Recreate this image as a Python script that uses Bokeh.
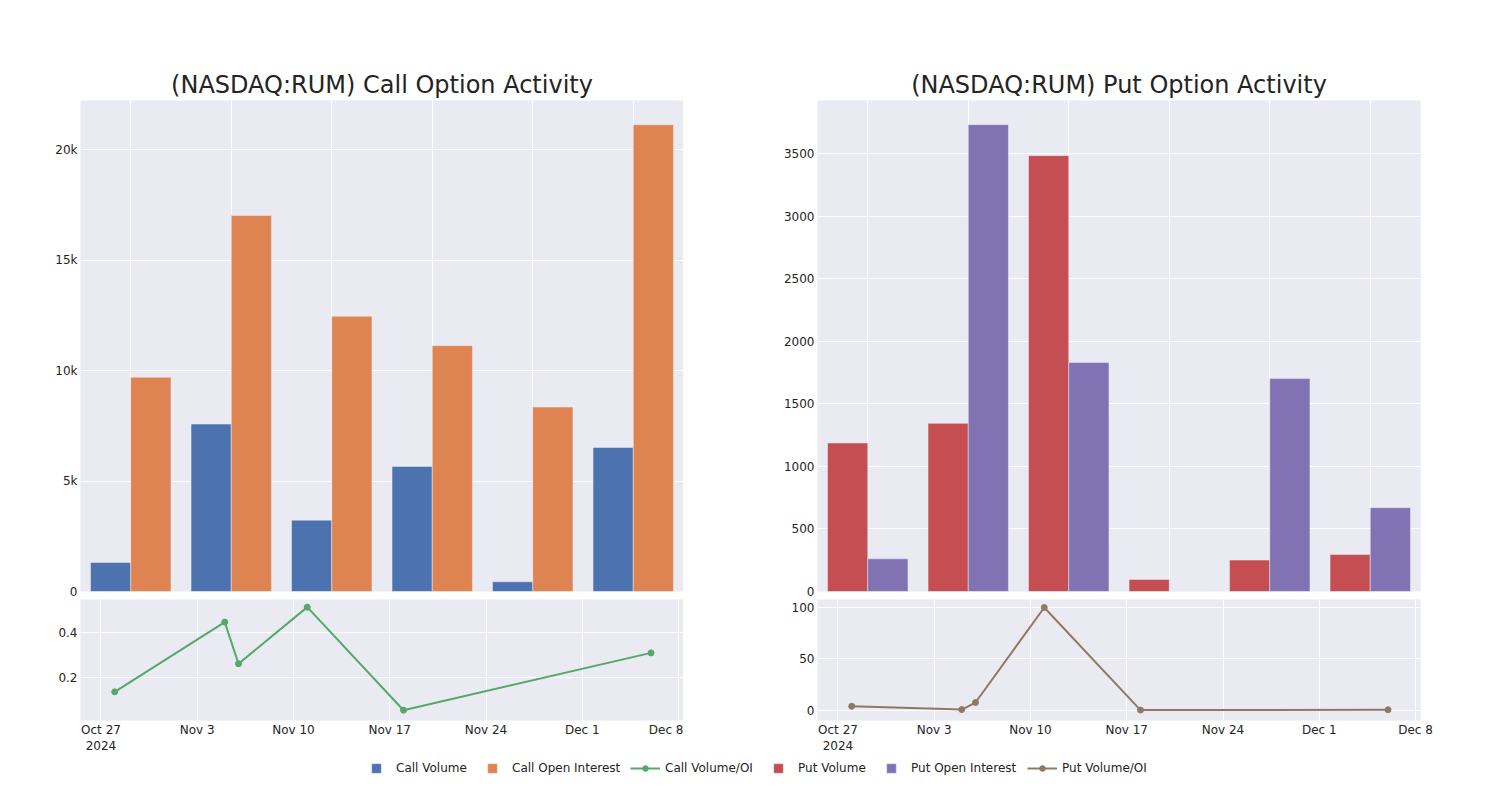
import pandas as pd
from bokeh.plotting import figure
from bokeh.models import (Range1d, FactorRange, FixedTicker, Legend, LegendItem,
                          ColumnDataSource)
from bokeh.transform import dodge
from bokeh.layouts import column, row
from bokeh.embed import file_html
from bokeh.resources import INLINE

# ---------------- data ----------------
dates = ["2024-10-28", "2024-11-05", "2024-11-06", "2024-11-11", "2024-11-18", "2024-12-06"]
call_volume = [1310, 7580, 3230, 5660, 440, 6520]
call_open_interest = [9700, 17020, 12460, 11130, 8350, 21130]
call_vol_oi = [0.138, 0.446, 0.262, 0.512, 0.057, 0.310]
put_volume = [1187, 1344, 3484, 96, 251, 296]
put_open_interest = [261, 3732, 1830, 0, 1702, 670]
put_vol_oi = [3.9, 0.65, 7.5, 100, 0.15, 0.44]

call_yticks = [0, 5000, 10000, 15000, 20000]
call_ytick_labels = ["0", "5k", "10k", "15k", "20k"]
put_yticks = [0, 500, 1000, 1500, 2000, 2500, 3000, 3500]
put_ytick_labels = ["0", "500", "1000", "1500", "2000", "2500", "3000", "3500"]
call_ratio_ticks = [0.2, 0.4]
call_ratio_labels = ["0.2", "0.4"]
put_ratio_ticks = [0, 50, 100]
put_ratio_labels = ["0", "50", "100"]
date_ticks = ["2024-10-27", "2024-11-03", "2024-11-10", "2024-11-17", "2024-11-24", "2024-12-01", "2024-12-08"]
date_tick_labels = ["Oct 27\n2024", "Nov 3", "Nov 10", "Nov 17", "Nov 24", "Dec 1", "Dec 8"]

# ---------------- style ----------------
FONT = "DejaVu Sans"
TXT = "#242424"
BG = "#EAEAF2"
C_BLUE, C_ORANGE, C_GREEN = "#4C72B0", "#DD8452", "#55A868"
C_RED, C_PURPLE, C_BROWN = "#C44E52", "#8172B3", "#937860"

FW = 603
date_ms = [int(pd.Timestamp(d).value // 10**6) for d in date_ticks]
line_x = pd.to_datetime(dates)
x_start = pd.Timestamp("2024-10-25 12:15")
x_end = pd.Timestamp("2024-12-08 08:40")


def style(p):
    p.background_fill_color = BG
    p.border_fill_color = "white"
    p.outline_line_color = None
    p.grid.grid_line_color = "white"
    p.grid.grid_line_width = 1
    for ax in p.axis:
        ax.axis_line_color = None
        ax.major_tick_line_color = None
        ax.minor_tick_line_color = None
        ax.major_tick_out = 0
        ax.major_tick_in = 0
        ax.major_label_text_font = FONT
        ax.major_label_text_font_size = "12px"
        ax.major_label_text_color = TXT
        ax.major_label_standoff = 3


def bar_fig(title, left, right, ymax, yt, ytl, vals1, vals2, c1, c2):
    p = figure(x_range=FactorRange(*dates), y_range=Range1d(0, ymax),
               frame_width=FW, frame_height=491,
               min_border_left=left, min_border_right=right,
               min_border_top=100, min_border_bottom=8,
               x_axis_location=None, output_backend="svg",
               toolbar_location=None, title=title)
    src = ColumnDataSource(dict(date=dates, a=vals1, b=vals2))
    p.vbar(x=dodge("date", -0.2, range=p.x_range), top="a", width=0.4, source=src,
           fill_color=c1, line_color=BG, line_width=0.5)
    p.vbar(x=dodge("date", 0.2, range=p.x_range), top="b", width=0.4, source=src,
           fill_color=c2, line_color=BG, line_width=0.5)
    style(p)
    p.yaxis.ticker = FixedTicker(ticks=yt)
    p.yaxis.major_label_overrides = dict(zip(yt, ytl))
    p.title.text_font = FONT
    p.title.text_font_size = "24px"
    p.title.text_font_style = "normal"
    p.title.text_color = TXT
    p.title.align = "center"
    p.title.standoff = 3
    return p


def line_fig(left, right, y0, y1, yt, ytl, vals, color):
    p = figure(x_axis_type="datetime", x_range=Range1d(x_start, x_end),
               y_range=Range1d(y0, y1), frame_width=FW, frame_height=121,
               min_border_left=left, min_border_right=right,
               min_border_top=0, min_border_bottom=40,
               output_backend="svg", toolbar_location=None)
    src = ColumnDataSource(dict(x=line_x, y=vals))
    p.line("x", "y", source=src, line_color=color, line_width=2)
    p.scatter("x", "y", source=src, size=6, fill_color=color, line_color=color)
    style(p)
    p.xaxis.ticker = FixedTicker(ticks=date_ms)
    p.xaxis.major_label_overrides = dict(zip(date_ms, date_tick_labels))
    p.xaxis.major_label_standoff = 2
    p.yaxis.ticker = FixedTicker(ticks=yt)
    p.yaxis.major_label_overrides = dict(zip(yt, ytl))
    return p


p1 = bar_fig("(NASDAQ:RUM) Call Option Activity", 80, 0, 22230,
             call_yticks, call_ytick_labels, call_volume, call_open_interest, C_BLUE, C_ORANGE)
p2 = line_fig(80, 0, 0.0115, 0.5457, call_ratio_ticks, call_ratio_labels, call_vol_oi, C_GREEN)
p3 = bar_fig("(NASDAQ:RUM) Put Option Activity", 134, 60, 3925,
             put_yticks, put_ytick_labels, put_volume, put_open_interest, C_RED, C_PURPLE)
p4 = line_fig(134, 60, -10, 107.8, put_ratio_ticks, put_ratio_labels, put_vol_oi, C_BROWN)

# ---------------- legend ----------------
# legend-only strip; proxy renderers carry the series data but lie outside its view
leg = figure(width=1480, height=32, x_range=Range1d(0, 1), y_range=Range1d(0, 1),
             min_border=0, x_axis_location=None, y_axis_location=None,
             output_backend="svg", toolbar_location=None)
leg.outline_line_color = None
leg.grid.visible = False

legend_entries = [
    ("Call Volume", "bar", C_BLUE, call_volume, 370),
    ("Call Open Interest", "bar", C_ORANGE, call_open_interest, 486),
    ("Call Volume/OI", "line", C_GREEN, call_vol_oi, 630),
    ("Put Volume", "bar", C_RED, put_volume, 772),
    ("Put Open Interest", "bar", C_PURPLE, put_open_interest, 885),
    ("Put Volume/OI", "line", C_BROWN, put_vol_oi, 1027),
]
for label, kind, color, vals, xloc in legend_entries:
    src = ColumnDataSource(dict(x=line_x, y=vals))
    if kind == "bar":
        r = leg.vbar(x="x", top="y", width=1, source=src,
                     fill_color=color, line_color=BG, line_width=0.5)
        rs = [r]
        gw, gh, st = 12, 12, 14
    else:
        r1 = leg.line("x", "y", source=src, line_color=color, line_width=2)
        r2 = leg.scatter("x", "y", source=src, fill_color=color, line_color=color)
        rs = [r1, r2]
        gw, gh, st = 30, 14, 5
    lg = Legend(items=[LegendItem(label=label, renderers=rs)], location=(xloc, 17),
                orientation="horizontal", glyph_width=gw, glyph_height=gh,
                label_standoff=st, label_height=12, padding=0, margin=0, spacing=0,
                border_line_color=None, background_fill_alpha=0,
                label_text_font=FONT, label_text_font_size="12px", label_text_color=TXT)
    leg.add_layout(lg, "center")

layout = column(row(column(p1, p2), column(p3, p4)), leg)
open("out.html", "w").write(file_html(layout, INLINE))
